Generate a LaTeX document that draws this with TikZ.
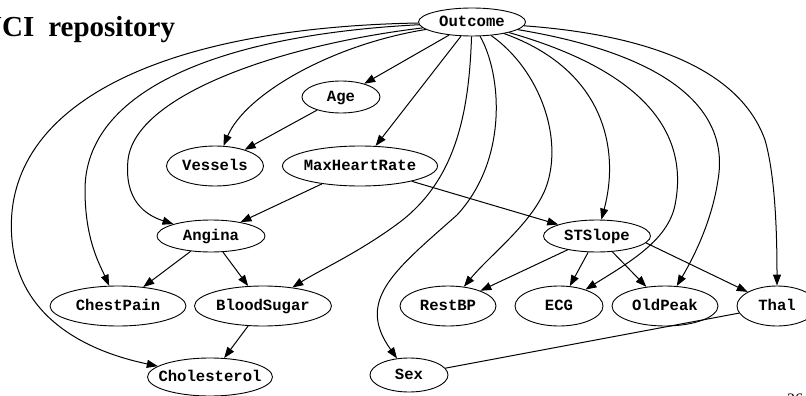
\documentclass[tikz,border=0pt]{standalone}
\usepackage{fontspec}
\setmainfont{Liberation Serif}
\newfontfamily\varfont{Liberation Mono}
\usetikzlibrary{shapes.geometric,arrows.meta}
% centred label of zero width, so the ellipse keeps its given size
\newcommand\ctext[1]{\makebox[0pt][c]{#1}}
\begin{document}
\begin{tikzpicture}[x=1pt,y=-1pt,
  var/.style={ellipse, draw, line width=0.9pt, inner sep=0pt,
    text height=9pt, text depth=0pt,
    font=\varfont\bfseries\fontsize{15.6}{18}\selectfont},
  dep/.style={line width=1pt, -{Triangle[length=11pt,width=8pt]}},
  link/.style={line width=1pt}]
\useasboundingbox (0,0) rectangle (806,396);

% heading and page number
\node[anchor=base west, inner sep=0pt,
  font=\fontsize{29}{34}\selectfont\bfseries] (title) at (-19,37)
  {UCI\hspace{14pt}repository};
\node[anchor=base west, inner sep=0pt, font=\fontsize{16}{19}\selectfont]
  (pagenum) at (787,404) {26};

% variables
\node[var, minimum width=107pt, minimum height=28pt] (outcome) at (472,22) {\ctext{Outcome}};
\node[var, minimum width=78pt,  minimum height=32pt] (age) at (341,97) {\ctext{Age}};
\node[var, minimum width=97pt,  minimum height=40pt] (vessels) at (215,166) {\ctext{Vessels}};
\node[var, minimum width=155pt, minimum height=40pt] (maxhr) at (360,166) {\ctext{MaxHeartRate}};
\node[var, minimum width=108pt, minimum height=32pt] (angina) at (211,236) {\ctext{Angina}};
\node[var, minimum width=136pt, minimum height=40pt] (chestpain) at (118,306) {\ctext{ChestPain}};
\node[var, minimum width=137pt, minimum height=40pt] (bloodsugar) at (263,306) {\ctext{BloodSugar}};
\node[var, minimum width=125pt, minimum height=38pt] (cholesterol) at (210,377) {\ctext{Cholesterol}};
\node[var, minimum width=78pt,  minimum height=34pt] (sex) at (409,375) {\ctext{Sex}};
\node[var, minimum width=107pt, minimum height=32pt] (stslope) at (597,236) {\ctext{STSlope}};
\node[var, minimum width=96pt,  minimum height=40pt] (restbp) at (448,306) {\ctext{RestBP}};
\node[var, minimum width=88pt,  minimum height=40pt] (ecg) at (559,306) {\ctext{ECG}};
\node[var, minimum width=106pt, minimum height=40pt] (oldpeak) at (665,306) {\ctext{OldPeak}};
\node[var, minimum width=80pt,  minimum height=40pt] (thal) at (777,306) {\ctext{Thal}};

% edges out of Outcome, left side
\draw[dep] (outcome) .. controls (150,28) and (0,110) .. (12,240)
  .. controls (19,320) and (90,352) .. (cholesterol);
\draw[dep] (outcome) .. controls (220,35) and (85,90) .. (85,190)
  .. controls (85,240) and (100,265) .. (chestpain);
\draw[dep] (outcome) .. controls (280,45) and (135,95) .. (128,160)
  .. controls (124,200) and (145,215) .. (angina);
\draw[dep] (outcome) .. controls (330,45) and (245,95) .. (vessels);
\draw[dep] (outcome) -- (age);
\draw[dep] (outcome) -- (maxhr);

% edges out of Outcome, downwards and right side
\draw[dep] (outcome) .. controls (469,115) and (455,180) .. (400,222)
  .. controls (360,252) and (320,270) .. (bloodsugar);
\draw[dep] (outcome) .. controls (502,75) and (508,160) .. (457,215)
  .. controls (395,270) and (355,300) .. (sex);
\draw[dep] (outcome) .. controls (540,70) and (565,140) .. (545,190)
  .. controls (530,225) and (490,255) .. (restbp);
\draw[dep] (outcome) .. controls (605,70) and (620,150) .. (stslope);
\draw[dep] (outcome) .. controls (640,70) and (690,130) .. (675,205)
  .. controls (668,240) and (630,262) .. (ecg);
\draw[dep] (outcome) .. controls (670,55) and (730,110) .. (718,180)
  .. controls (712,220) and (695,255) .. (oldpeak);
\draw[dep] (outcome) .. controls (650,35) and (740,70) .. (765,140)
  .. controls (775,175) and (777,230) .. (thal);

% remaining dependencies
\draw[dep] (age) -- (vessels);
\draw[dep] (maxhr) -- (angina);
\draw[dep] (maxhr) -- (stslope);
\draw[dep] (angina) -- (chestpain);
\draw[dep] (angina) -- (bloodsugar);
\draw[dep] (bloodsugar) -- (cholesterol);
\draw[dep] (stslope) -- (restbp);
\draw[dep] (stslope) -- (ecg);
\draw[dep] (stslope) -- (oldpeak);
\draw[dep] (stslope.-8) -- (thal);
\draw[link] (thal) -- (sex);
\end{tikzpicture}
\end{document}
